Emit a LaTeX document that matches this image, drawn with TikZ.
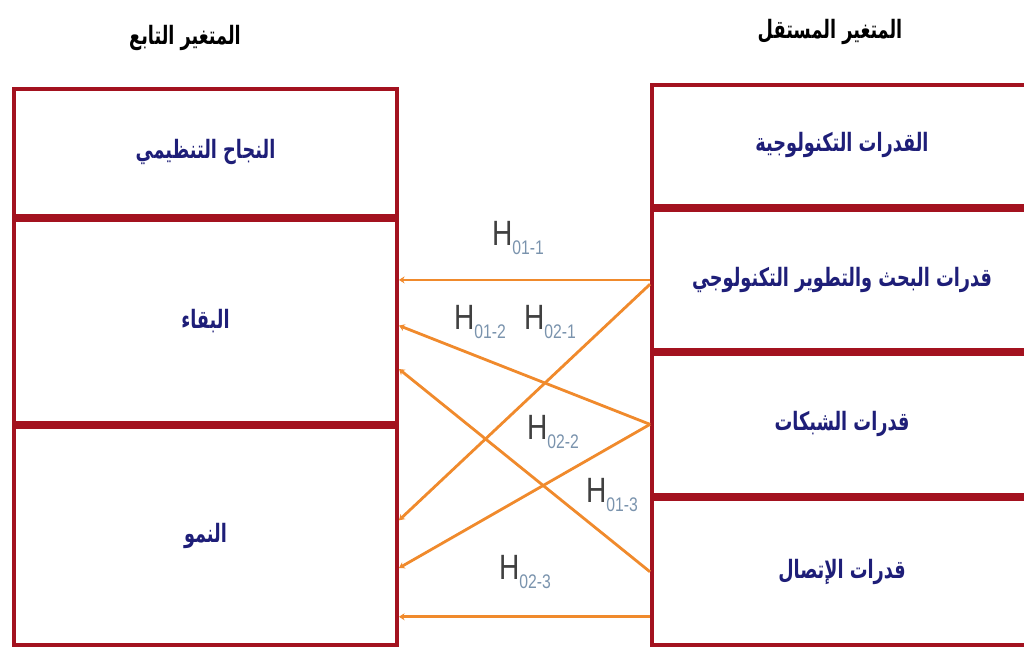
\documentclass[tikz,border=0pt]{standalone}
\usepackage{fontspec}
\setmainfont{Liberation Sans}
\newfontfamily\arabicfont[Script=Arabic]{DejaVu Sans}
\TeXXeTstate=1
\usetikzlibrary{positioning,calc,arrows.meta}

\definecolor{boxred}{HTML}{A3121F}
\definecolor{navytext}{HTML}{1E1E78}
\definecolor{linkorange}{HTML}{F08A2C}
\definecolor{subgray}{HTML}{7A93AD}

\newcommand{\artext}[1]{\scalebox{0.7}[1]{\arabicfont\bfseries\beginR #1\endR}}
\newcommand{\hyp}[1]{H\raisebox{-0.5ex}{\fontsize{14}{14}\selectfont\color{subgray}#1}}

\tikzset{
  cell/.style={draw=boxred, line width=2.8pt, fill=white, text=navytext,
    font=\fontsize{18}{22}\selectfont, inner sep=0pt},
  lcell/.style={cell, minimum width=95.75mm},
  rcell/.style={cell, minimum width=95mm},
  head/.style={font=\fontsize{18}{22}\selectfont},
  link/.style={draw=linkorange, line width=2pt, -{Stealth[length=4pt,width=5pt]}},
  hlab/.style={text=black!75, font=\fontsize{25}{25}\selectfont, xscale=0.8, inner sep=0pt},
}

\begin{document}
\begin{tikzpicture}[x=0.25mm, y=-0.25mm]
    \useasboundingbox (0,0) rectangle (1024,650);

    % العناوين
    \node[head] (dep) at (185,38) {\artext{المتغير التابع}};
    \node[head] (indep) at (830,32) {\artext{المتغير المستقل}};

    % المتغير التابع
    \node[lcell, minimum height=31.75mm, anchor=north west] (goal) at (12,87) {\artext{النجاح التنظيمي}};
    \node[lcell, minimum height=50.75mm, below=0pt of goal] (baqa) {\artext{البقاء}};
    \node[lcell, minimum height=54.5mm, below=0pt of baqa] (numuw) {\artext{النمو}};

    % المتغير المستقل
    \node[rcell, minimum height=30.25mm, anchor=north west] (tech) at (650,83) {\artext{القدرات التكنولوجية}};
    \node[rcell, minimum height=35mm, below=0pt of tech] (rd) {\artext{قدرات البحث والتطوير التكنولوجي}};
    \node[rcell, minimum height=35.25mm, below=0pt of rd] (net) {\artext{قدرات الشبكات}};
    \node[rcell, minimum height=36.5mm, below=0pt of net] (comm) {\artext{قدرات الإتصال}};

    % نقاط الوصل
    \coordinate (b2) at ($(baqa.north east)!.52!(baqa.south east)$);
    \coordinate (b3) at ($(baqa.north east)!.73!(baqa.south east)$);
    \coordinate (n1) at ($(numuw.north east)!.43!(numuw.south east)$);
    \coordinate (n2) at ($(numuw.north east)!.645!(numuw.south east)$);
    \coordinate (r1) at ($(rd.north west)!.53!(rd.south west)$);
    \coordinate (c3) at ($(comm.north west)!.8!(comm.south west)$);

    % الفرضيات
    \draw[link] (rd.west) -- (rd.west -| baqa.east);
    \draw[link] (net.west) -- (b2);
    \draw[link] (comm.west) -- (b3);
    \draw[link] (r1) -- (n1);
    \draw[link] (net.west) -- (n2);
    \draw[link] (c3) -- (c3 -| numuw.east);

    \node[hlab] (h11) at (518,238) {\hyp{01-1}};
    \node[hlab] (h12) at (480,322) {\hyp{01-2}};
    \node[hlab] (h21) at (550,322) {\hyp{02-1}};
    \node[hlab] (h22) at (553,432) {\hyp{02-2}};
    \node[hlab] (h13) at (612,495) {\hyp{01-3}};
    \node[hlab] (h23) at (525,572) {\hyp{02-3}};
\end{tikzpicture}
\end{document}
